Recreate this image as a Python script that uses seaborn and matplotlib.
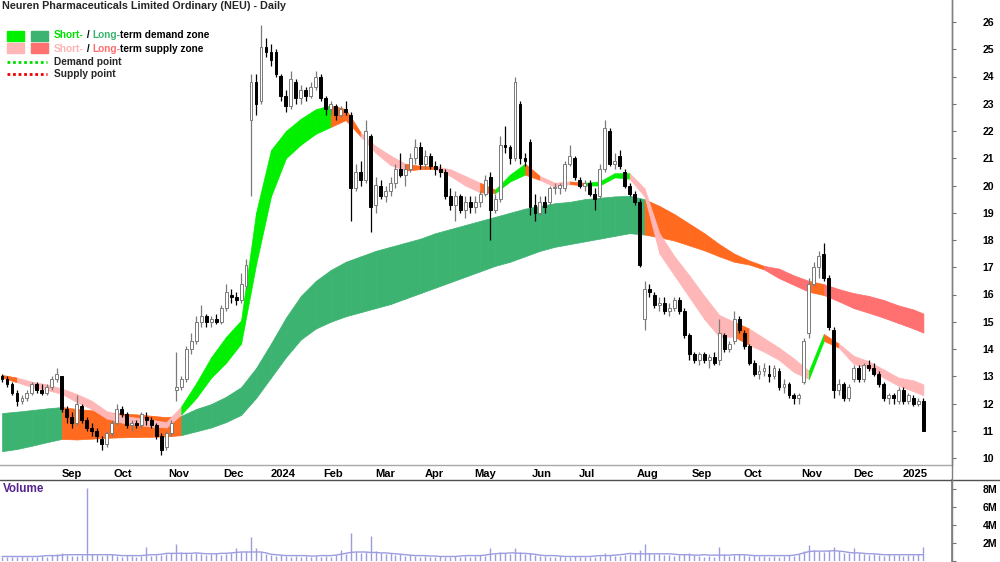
import numpy as np
import pandas as pd
import matplotlib
matplotlib.use("Agg")
import matplotlib.pyplot as plt
import matplotlib.transforms as mtrans
from matplotlib.lines import Line2D
from matplotlib.patches import Rectangle
import seaborn as sns

sns.set_theme(style="white")
plt.rcParams["font.family"] = ["Liberation Sans", "DejaVu Sans"]

# ---------------- data ----------------
title = "Neuren Pharmaceuticals Limited Ordinary (NEU) - Daily"

bar_open = [13.0,12.9,12.7,12.4,12.1,12.2,12.4,12.7,12.5,12.4,
            12.6,12.9,13.0,11.8,11.5,11.3,11.9,11.4,11.1,11.0,
            10.7,10.5,10.9,11.3,11.8,11.6,11.2,11.3,11.2,11.5,
            11.4,11.2,10.8,10.4,10.9,12.5,12.6,12.9,14.0,14.3,
            15.0,15.2,15.0,15.1,15.0,15.5,16.0,15.9,15.8,16.3,
            22.4,23.8,23.1,25.1,24.9,24.9,24.0,23.3,22.9,23.8,
            23.2,23.5,23.3,23.6,24.0,23.2,22.8,22.9,22.6,22.8,
            22.6,19.9,20.5,20.2,21.8,19.3,20.0,19.6,19.8,20.1,
            20.6,20.4,20.6,21.0,21.4,20.8,21.1,20.7,20.6,20.5,
            19.6,19.3,19.6,19.1,19.4,19.2,19.4,19.7,20.3,19.1,
            19.5,21.5,21.4,21.0,23.0,21.0,21.6,19.3,19.0,19.4,
            19.4,19.9,19.9,19.9,20.8,21.0,20.2,20.0,20.1,19.7,
            19.6,20.6,22.0,20.8,21.1,20.5,20.0,19.7,19.4,15.1,
            16.2,16.0,15.6,15.7,15.4,15.5,15.8,15.4,14.5,13.8,
            13.6,13.8,13.6,13.7,13.6,14.5,14.0,14.3,15.1,14.6,
            14.1,13.5,13.1,13.2,13.1,13.0,13.2,12.6,12.7,12.3,
            12.2,12.8,14.6,16.4,17.0,17.5,16.6,14.7,12.5,12.7,
            12.2,12.9,13.3,12.9,13.4,13.3,13.1,12.7,12.2,12.3,
            12.1,12.5,12.1,12.2,12.0,12.1]
bar_high = [13.1,13.0,12.8,12.5,12.3,12.5,12.8,12.8,12.7,12.7,
            13.0,13.3,13.0,11.9,11.7,12.3,12.0,11.5,11.3,11.1,
            10.8,11.0,11.4,12.0,11.9,11.7,11.4,11.4,11.7,11.7,
            11.5,11.3,10.9,11.0,11.4,13.9,13.0,14.1,14.6,15.2,
            15.6,15.3,15.2,15.3,15.6,16.4,16.2,16.1,16.8,17.3,
            24.1,24.1,25.9,25.4,25.2,25.0,24.1,23.5,24.2,23.9,
            23.7,23.6,23.8,24.2,24.1,23.3,23.1,23.0,22.9,23.1,
            22.7,20.8,20.9,22.4,21.9,20.3,20.2,20.0,20.3,20.8,
            21.2,20.8,21.2,21.7,21.6,21.3,21.2,20.9,20.8,20.6,
            19.9,19.8,19.7,19.6,19.6,19.6,19.8,20.4,20.5,19.7,
            21.8,22.2,21.5,24.0,23.1,21.2,21.7,19.7,19.6,19.6,
            20.0,20.1,20.1,20.9,21.5,21.1,20.3,20.2,20.2,19.9,
            20.8,22.4,22.1,21.2,21.3,20.6,20.1,19.8,19.5,16.5,
            16.4,16.1,15.9,15.9,15.7,15.9,15.9,15.5,14.6,13.9,
            13.9,13.9,13.8,13.9,15.1,14.6,14.3,15.4,15.2,14.7,
            14.2,13.6,13.4,13.5,13.4,13.4,13.3,12.9,12.8,12.4,
            12.4,14.4,16.6,17.2,17.6,17.9,16.7,14.8,12.9,12.8,
            12.7,13.4,13.4,13.5,13.6,13.5,13.2,12.8,12.4,12.4,
            12.6,12.6,12.4,12.3,12.2,12.2]
bar_low = [12.8,12.6,12.3,11.9,12.0,12.1,12.3,12.4,12.3,12.3,
           12.5,12.8,11.7,11.3,11.1,11.2,11.3,11.0,10.8,10.6,
           10.3,10.4,10.8,11.2,11.5,11.1,11.0,11.1,11.1,11.2,
           11.1,10.7,10.1,10.3,10.8,12.1,12.5,12.8,13.8,14.2,
           14.8,14.8,14.8,14.9,14.9,15.4,15.7,15.6,15.7,16.2,
           19.6,22.6,23.0,24.7,24.4,24.0,23.1,22.7,22.8,23.0,
           23.0,23.1,23.2,23.5,23.1,22.6,22.6,22.4,22.5,22.6,
           18.7,19.8,20.0,20.1,18.3,19.0,19.5,19.4,19.6,19.9,
           20.3,20.0,20.5,20.8,20.6,20.6,20.6,20.4,20.3,19.5,
           19.1,18.7,19.0,18.8,19.0,19.0,19.2,19.6,18.0,19.0,
           19.4,21.2,20.8,20.9,20.8,20.7,18.9,18.7,18.9,19.0,
           19.3,19.7,19.7,19.8,20.7,20.2,19.9,19.8,19.6,19.1,
           19.5,20.5,20.7,20.6,20.6,19.9,19.6,19.3,17.0,14.7,
           15.9,15.5,15.4,15.3,15.2,15.4,15.3,14.4,13.6,13.5,
           13.4,13.5,13.3,13.4,13.4,13.9,13.9,14.2,14.6,14.0,
           13.4,13.0,12.9,13.0,12.8,12.9,12.5,12.4,12.2,12.0,
           12.0,12.7,14.4,16.3,16.6,16.5,14.7,12.2,12.3,12.1,
           12.1,12.8,12.8,12.8,13.2,13.0,12.6,12.1,12.0,12.0,
           12.0,12.0,12.0,11.9,11.9,11.0]
bar_close = [12.9,12.7,12.4,12.1,12.2,12.4,12.7,12.5,12.4,12.6,
             12.9,13.1,11.8,11.5,11.3,12.0,11.4,11.1,11.0,10.8,
             10.5,10.9,11.3,11.8,11.6,11.2,11.3,11.2,11.6,11.4,
             11.2,10.8,10.3,10.9,11.3,12.6,12.9,14.0,14.3,15.0,
             15.2,15.0,15.1,15.0,15.5,16.1,15.9,15.8,16.4,17.1,
             23.8,23.0,25.1,24.9,24.6,24.1,23.3,22.9,23.9,23.2,
             23.5,23.3,23.6,24.0,23.2,22.8,23.0,22.6,22.8,22.7,
             19.9,20.5,20.2,22.0,19.2,20.0,19.6,19.8,20.1,20.6,
             20.4,20.6,21.0,21.4,20.8,21.1,20.7,20.6,20.5,19.6,
             19.3,19.6,19.1,19.4,19.2,19.4,19.7,20.2,19.1,19.5,
             21.5,21.4,21.0,23.8,21.0,20.9,19.2,19.0,19.4,19.2,
             19.9,19.9,20.0,20.8,21.1,20.3,20.0,20.1,19.7,19.5,
             20.6,22.1,20.8,20.9,20.7,20.0,19.7,19.4,17.1,16.2,
             16.1,15.6,15.7,15.4,15.5,15.8,15.4,14.5,13.8,13.6,
             13.8,13.6,13.7,13.5,14.6,14.0,14.2,15.1,14.7,14.1,
             13.5,13.1,13.2,13.3,13.0,13.3,12.6,12.7,12.3,12.2,
             12.3,14.3,16.4,17.0,17.4,16.6,14.8,12.5,12.7,12.2,
             12.6,13.3,12.9,13.4,13.3,13.1,12.7,12.2,12.3,12.2,
             12.5,12.1,12.3,12.0,12.1,11.0]

volume_m = [0.5,0.4,0.5,0.4,0.6,0.5,0.4,0.5,0.6,0.5,
            0.7,0.8,0.9,0.7,0.6,0.6,0.7,8.1,0.8,0.7,
            0.6,0.7,0.8,0.6,0.5,0.7,0.6,0.5,0.6,1.6,
            0.6,0.7,0.7,0.8,0.9,1.9,1.0,0.9,0.8,0.9,
            0.8,0.7,0.8,0.9,0.7,0.8,0.9,1.4,1.0,1.1,
            2.7,1.5,1.0,0.8,0.7,0.6,0.7,0.6,0.5,0.6,
            0.5,0.6,0.5,0.6,0.5,0.6,0.5,0.7,1.2,0.8,
            3.1,1.0,0.9,1.0,2.8,1.1,0.9,0.8,0.9,0.7,
            0.8,0.6,0.7,0.6,0.5,0.6,0.5,0.5,0.6,0.5,
            0.5,0.6,0.5,0.6,0.5,0.6,0.7,0.6,1.4,0.8,
            1.0,0.9,0.8,1.4,1.0,0.8,0.9,0.7,0.6,0.6,
            0.5,0.5,0.6,0.5,0.5,0.6,0.5,0.4,0.5,0.5,
            0.6,0.9,0.7,0.6,0.6,0.7,0.8,0.9,1.2,1.9,
            0.9,0.8,0.8,0.7,0.7,0.6,0.7,0.8,0.9,0.7,
            0.6,0.5,0.6,0.5,1.6,0.8,0.6,0.7,0.8,0.7,
            0.6,0.7,0.6,0.6,0.5,0.6,0.5,0.6,0.7,0.6,
            0.8,1.1,1.8,1.2,1.1,1.0,1.2,1.6,1.1,0.9,
            0.9,1.4,0.9,0.8,0.7,0.8,0.7,0.6,0.8,0.7,
            0.7,0.6,0.7,0.7,0.8,1.6]

# zone values at every third bar (plus the last bar)
lt_upper = [11.65,11.7,11.76,11.82,11.87,11.8,11.75,11.68,11.63,11.6,
            11.55,11.5,11.55,11.8,11.98,12.25,12.6,13.3,14.2,15.15,
            15.95,16.5,16.9,17.2,17.4,17.6,17.75,17.9,18.05,18.25,
            18.4,18.55,18.7,18.85,19.0,19.15,19.25,19.35,19.4,19.5,
            19.55,19.6,19.62,19.5,19.25,18.95,18.6,18.25,17.85,17.5,
            17.25,17.05,16.95,16.7,16.5,16.38,16.2,16.05,15.95,15.8,
            15.6,15.45,15.3]
lt_lower = [10.25,10.33,10.45,10.58,10.7,10.68,10.71,10.74,10.76,10.77,
            10.78,10.79,10.84,10.98,11.12,11.32,11.58,12.2,12.95,13.7,
            14.35,14.75,15.0,15.2,15.35,15.5,15.65,15.85,16.05,16.25,
            16.45,16.65,16.85,17.05,17.2,17.4,17.6,17.75,17.85,17.95,
            18.05,18.15,18.25,18.2,18.1,17.98,17.8,17.62,17.4,17.2,
            17.1,16.92,16.6,16.35,16.1,15.98,15.75,15.5,15.33,15.15,
            14.95,14.75,14.6]
st_upper = [13.05,12.95,12.8,12.7,12.55,12.35,12.1,11.72,11.55,11.48,
            11.4,11.32,11.9,12.75,13.7,14.45,15.05,19.0,21.3,22.0,
            22.45,22.8,22.95,22.8,21.95,21.45,21.1,20.8,20.72,20.7,
            20.6,20.35,20.1,19.85,20.4,20.8,20.35,20.1,20.15,20.1,
            20.15,20.45,20.45,19.9,18.25,17.4,16.7,15.95,15.25,15.0,
            14.75,14.4,14.05,13.65,13.2,14.55,14.2,13.75,13.55,13.25,
            12.95,12.85,12.7]
st_lower = [12.95,12.78,12.6,12.5,12.35,12.05,11.8,11.45,11.3,11.22,
            11.15,11.12,11.6,12.2,12.95,13.5,14.2,17.1,19.6,21.0,
            21.5,21.9,22.15,22.4,21.8,21.2,20.75,20.55,20.6,20.6,
            20.35,20.0,19.75,19.72,20.15,20.4,20.2,19.95,20.05,20.0,
            20.0,20.3,20.25,19.6,17.5,16.7,15.9,15.1,14.45,14.45,
            14.15,13.9,13.6,13.15,12.9,14.3,14.05,13.45,13.3,12.95,
            12.65,12.45,12.3]
# zone state per segment: G long demand, S short demand, P short supply,
# R long supply, O supply (orange)
lt_state = "GGGG" + "OOOOOOOO" + "G" * 31 + "OOOOOOOO" + "RRR" + "O" + "RRRRRRR"
st_state = ("O" + "P" * 11 + "S" * 10 + "OO" + "PPP" + "OO" + "PPP" + "O" + "SS"
            + "O" + "PP" + "O" + "SSS" + "P" * 7 + "O" + "PPPP" + "S" + "O" + "P" * 6)

month_labels = ["Sep", "Oct", "Nov", "Dec", "2024", "Feb", "Mar", "Apr", "May",
                "Jun", "Jul", "Aug", "Sep", "Oct", "Nov", "Dec", "2025"]
price_ticks = list(range(10, 27))
volume_ticks_m = [2, 4, 6, 8]
volume_tick_labels = ["2M", "4M", "6M", "8M"]

holidays = ["2023-12-25", "2023-12-26", "2024-01-01", "2024-01-26", "2024-03-29",
            "2024-04-01", "2024-04-25", "2024-06-10", "2024-12-25", "2024-12-26",
            "2025-01-01"]

# ---------------- colours ----------------
zone_colors = {"G": "#3cb371", "S": "#00f000", "P": "#ffb6b6",
               "R": "#ff7070", "O": "#ff6a1f"}
vol_color = "#9c9ce0"

# ---------------- calendar / x positions ----------------
tdays = pd.bdate_range("2023-07-31", "2025-01-31")
tdays = tdays[~tdays.isin(pd.to_datetime(holidays))]
n = len(bar_close)
bar_x = np.arange(n) * 2 + 1
node_bars = list(range(0, n, 3))
if node_bars[-1] != n - 1:
    node_bars.append(n - 1)
node_x = np.array(node_bars) * 2 + 1

periods = pd.period_range("2023-09", "2025-01", freq="M")
month_pos = [int(np.searchsorted(tdays, p.start_time)) for p in periods]

px_per_day = (901 - 59.3) / (month_pos[-1] - month_pos[0])
x_left = month_pos[0] - 59.3 / px_per_day
x_right = x_left + 952 / px_per_day

# ---------------- figure ----------------
W, H = 1000, 562
fig = plt.figure(figsize=(10, 5.62), dpi=100)
fig.patch.set_facecolor("white")

ax = fig.add_axes([0, 1 - 465 / H, 0.952, 465 / H])
axv = fig.add_axes([0, 1 / H, 0.952, 81 / H])

# zones
for k in range(len(node_x) - 1):
    xs = node_x[k:k + 2]
    c = zone_colors[lt_state[k]]
    ax.fill_between(xs, lt_lower[k:k + 2], lt_upper[k:k + 2], color=c, ec=c, lw=0.5, zorder=1)
for k in range(len(node_x) - 1):
    xs = node_x[k:k + 2]
    c = zone_colors[st_state[k]]
    ax.fill_between(xs, st_lower[k:k + 2], st_upper[k:k + 2], color=c, ec=c, lw=0.5, zorder=2)

# candles
o = np.array(bar_open); h = np.array(bar_high); l = np.array(bar_low); c = np.array(bar_close)
up = c >= o
ax.vlines(bar_x[up], l[up], h[up], color="#7a7a7a", lw=0.9, zorder=3)
ax.vlines(bar_x[~up], l[~up], h[~up], color="black", lw=0.9, zorder=3)
body = np.maximum(np.abs(c - o), 0.05)
bottom = np.minimum(o, c)
ax.bar(bar_x[up], body[up], bottom=bottom[up], width=1.15, color="white",
       edgecolor="#7a7a7a", lw=0.7, zorder=4)
ax.bar(bar_x[~up], body[~up], bottom=bottom[~up], width=1.15, color="black",
       edgecolor="black", lw=0.7, zorder=4)

ax.set_xlim(x_left, x_right)
ax.set_ylim(10 - 7 / 27.25, 26 + 22 / 27.25)
ax.set_facecolor("white")
for s in ["left", "top"]:
    ax.spines[s].set_visible(False)
ax.spines["bottom"].set_color("#a8a8a8")
ax.spines["bottom"].set_linewidth(1)
ax.spines["right"].set_color("#808080")
ax.spines["right"].set_linewidth(1)

tick_fs = 7.6
ax.yaxis.tick_right()
ax.set_yticks(price_ticks)
ax.set_yticklabels([str(t) for t in price_ticks])
ax.tick_params(axis="y", direction="out", length=3, width=0.8, color="#707070",
               pad=19, labelsize=tick_fs, labelcolor="black")
ax.set_xticks(month_pos)
ax.set_xticklabels(month_labels)
ax.tick_params(axis="x", direction="out", length=2.5, width=0.8, color="#808080",
               pad=0.5, labelsize=tick_fs + 0.4, labelcolor="black")
offset = mtrans.ScaledTranslation(2 / 100, 0, fig.dpi_scale_trans)
for lbl in ax.get_xticklabels():
    lbl.set_horizontalalignment("left")
    lbl.set_fontweight("bold")
    lbl.set_transform(lbl.get_transform() + offset)
for lbl in ax.get_yticklabels():
    lbl.set_fontweight("bold")
ax.grid(False)

# volume
vol = np.array(volume_m) * 1e6
axv.vlines(bar_x, 0, vol, color=vol_color, lw=1.0, zorder=2)
vol_avg = pd.Series(vol).rolling(10, min_periods=1, center=True).median().values
sns.lineplot(x=bar_x, y=vol_avg, ax=axv, color=vol_color, lw=1.0, zorder=3)
axv.set_xlim(x_left, x_right)
axv.set_ylim(0, 9e6)
axv.set_facecolor("white")
for s in ["left", "top", "bottom"]:
    axv.spines[s].set_visible(False)
axv.spines["right"].set_color("#808080")
axv.yaxis.tick_right()
axv.set_yticks([0] + [v * 1e6 for v in volume_ticks_m])
axv.set_yticklabels([""] + volume_tick_labels)
axv.tick_params(axis="y", direction="out", length=3, width=0.8, color="#707070",
                pad=19, labelsize=tick_fs, labelcolor="black")
for lbl in axv.get_yticklabels():
    lbl.set_fontweight("bold")
axv.set_xticks([])
axv.set_xlabel("")
axv.set_ylabel("")
axv.grid(False)

# frame lines
fig.add_artist(Line2D([0, 1], [1 - 480 / H] * 2, color="#505050", lw=1))
fig.add_artist(Line2D([0.952, 0.952], [0, 1], color="#808080", lw=1))

renderer = fig.canvas.get_renderer()


def fx(px):
    return px / W


def fy(py):
    return 1 - py / H


# title fitted to its width in the reference
t = fig.text(fx(2), fy(6), title, fontsize=8, fontweight="bold", va="center", ha="left")
wpx = t.get_window_extent(renderer).width
t.set_fontsize(8 * 284 / wpx)

fig.text(fx(3), fy(489), "Volume", fontsize=8.4, fontweight="bold", color="#55248f",
         va="center", ha="left")


def seq_text(x0, y0, pieces, fs):
    x = x0
    for s, col in pieces:
        tt = fig.text(fx(x), fy(y0), s, fontsize=fs, fontweight="bold", color=col,
                      va="center", ha="left")
        x += tt.get_window_extent(renderer).width


row1 = [("Short-", "#00e000"), (" / ", "black"), ("Long-", "#3cb371"),
        ("term demand zone", "black")]
row2 = [("Short-", "#ffb3b3"), (" / ", "black"), ("Long-", "#ff6e6e"),
        ("term supply zone", "black")]
probe = fig.text(0, 0, "".join(s for s, _ in row1), fontsize=8, fontweight="bold")
legend_fs = 8 * 158 / probe.get_window_extent(renderer).width
probe.remove()

fig.add_artist(Rectangle((fx(7), fy(41)), fx(17), 10 / H, color=zone_colors["S"],
                         transform=fig.transFigure))
fig.add_artist(Rectangle((fx(31), fy(41)), fx(17), 10 / H, color=zone_colors["G"],
                         transform=fig.transFigure))
fig.add_artist(Rectangle((fx(7), fy(53)), fx(17), 10 / H, color=zone_colors["P"],
                         transform=fig.transFigure))
fig.add_artist(Rectangle((fx(31), fy(53)), fx(17), 10 / H, color=zone_colors["R"],
                         transform=fig.transFigure))
seq_text(54, 35.5, row1, legend_fs)
seq_text(54, 48.5, row2, legend_fs)
fig.add_artist(Line2D([fx(7), fx(47)], [fy(62)] * 2, color="#00dd00", lw=2,
                      linestyle=(0, (1, 1))))
fig.add_artist(Line2D([fx(7), fx(47)], [fy(74)] * 2, color="#ee0000", lw=2,
                      linestyle=(0, (1, 1))))
fig.text(fx(54), fy(62), "Demand point", fontsize=legend_fs, fontweight="bold",
         va="center", ha="left")
fig.text(fx(54), fy(74), "Supply point", fontsize=legend_fs, fontweight="bold",
         va="center", ha="left")

fig.savefig("out.png", dpi=100, facecolor="white")
